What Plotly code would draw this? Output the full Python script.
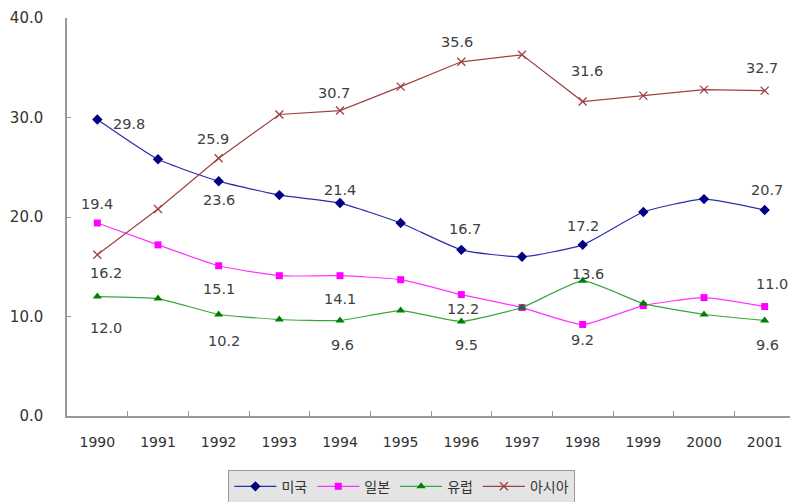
import plotly.graph_objects as go

years = ["1990", "1991", "1992", "1993", "1994", "1995", "1996", "1997", "1998", "1999", "2000", "2001"]
series_names = ["미국", "일본", "유럽", "아시아"]
usa = [29.8, 25.8, 23.6, 22.2, 21.4, 19.4, 16.7, 16.0, 17.2, 20.5, 21.8, 20.7]
japan = [19.4, 17.2, 15.1, 14.1, 14.1, 13.7, 12.2, 10.9, 9.2, 11.1, 11.9, 11.0]
europe = [12.0, 11.8, 10.2, 9.7, 9.6, 10.6, 9.5, 10.9, 13.6, 11.3, 10.2, 9.6]
asia = [16.2, 20.8, 25.9, 30.3, 30.7, 33.1, 35.6, 36.3, 31.6, 32.2, 32.8, 32.7]

# which points carry value labels (index into years) for each series
labelled = {
    0: [0, 2, 4, 6, 8, 11],
    1: [0, 2, 4, 6, 8, 11],
    2: [0, 2, 4, 6, 8, 11],
    3: [0, 2, 4, 6, 8, 11],
}
# label offsets in pixels (xshift, yshift) — styling only
label_offsets = {
    0: [(32, -5), (0, -19), (0, 13), (4, 21), (0, 19), (2, 20)],
    1: [(0, 19), (0, -23), (0, -23), (2, -14), (0, -16), (7, 23)],
    2: [(9, -31), (5, -26), (2, -25), (5, -24), (5, 7), (3, -25)],
    3: [(9, -18), (-6, 19), (-6, 18), (-4, 20), (4, 31), (-3, 23)],
}

data = [usa, japan, europe, asia]
styles = [
    dict(line=dict(color="#2b2bae", width=1.2, shape="spline", smoothing=0.5),
         marker=dict(symbol="diamond", size=8, color="#000080")),
    dict(line=dict(color="#ff33ff", width=1.2, shape="spline", smoothing=0.5),
         marker=dict(symbol="square", size=7, color="#ff00ff")),
    dict(line=dict(color="#3aa63a", width=1.2, shape="spline", smoothing=0.4),
         marker=dict(symbol="triangle-up", size=8, color="#008000")),
    dict(line=dict(color="#a04040", width=1.2),
         marker=dict(symbol="x-thin-open", size=8, color="#a04040",
                     line=dict(width=1.3, color="#a04040"))),
]

fig = go.Figure()
for i, (name, vals) in enumerate(zip(series_names, data)):
    fig.add_trace(go.Scatter(x=years, y=vals, name=name, mode="lines+markers",
                             cliponaxis=False, **styles[i]))

FONT = "DejaVu Sans, Liberation Sans, sans-serif"
annotations = []
for i, vals in enumerate(data):
    for j, idx in enumerate(labelled[i]):
        dx, dy = label_offsets[i][j]
        annotations.append(dict(
            x=idx, y=vals[idx], xref="x", yref="y",
            text=f"{vals[idx]:.1f}", showarrow=False,
            xshift=dx, yshift=dy,
            font=dict(family=FONT, size=14.5, color="#404040"),
        ))

fig.update_layout(
    width=790, height=494,
    margin=dict(l=59, r=3, t=10, b=86, autoexpand=False),
    paper_bgcolor="white", plot_bgcolor="white",
    showlegend=True,
    legend=dict(
        orientation="h", x=0.46, xanchor="center", y=-0.135, yanchor="top",
        bgcolor="#e4e4e4", bordercolor="#999999", borderwidth=1,
        font=dict(family="Noto Sans CJK KR, sans-serif", size=14, color="#333333"),
        itemwidth=42, tracegroupgap=0,
    ),
    annotations=annotations,
)
fig.update_xaxes(
    type="category", range=[-0.5, 11.5], automargin=False,
    showline=True, linecolor="#999999", linewidth=1.5,
    ticks="inside", tickson="boundaries", ticklen=5, tickcolor="#999999",
    showgrid=False, zeroline=False,
    tickfont=dict(family=FONT, size=14, color="#333333"),
    ticklabelstandoff=12,
)
fig.update_yaxes(
    range=[0, 40], dtick=10, tickformat=".1f", automargin=False,
    showline=True, linecolor="#999999", linewidth=1.5,
    ticks="inside", ticklen=4, tickcolor="#999999",
    showgrid=False, zeroline=False,
    tickfont=dict(family=FONT, size=15, color="#333333"),
    ticklabelstandoff=19,
)

fig.write_html("out.html")
